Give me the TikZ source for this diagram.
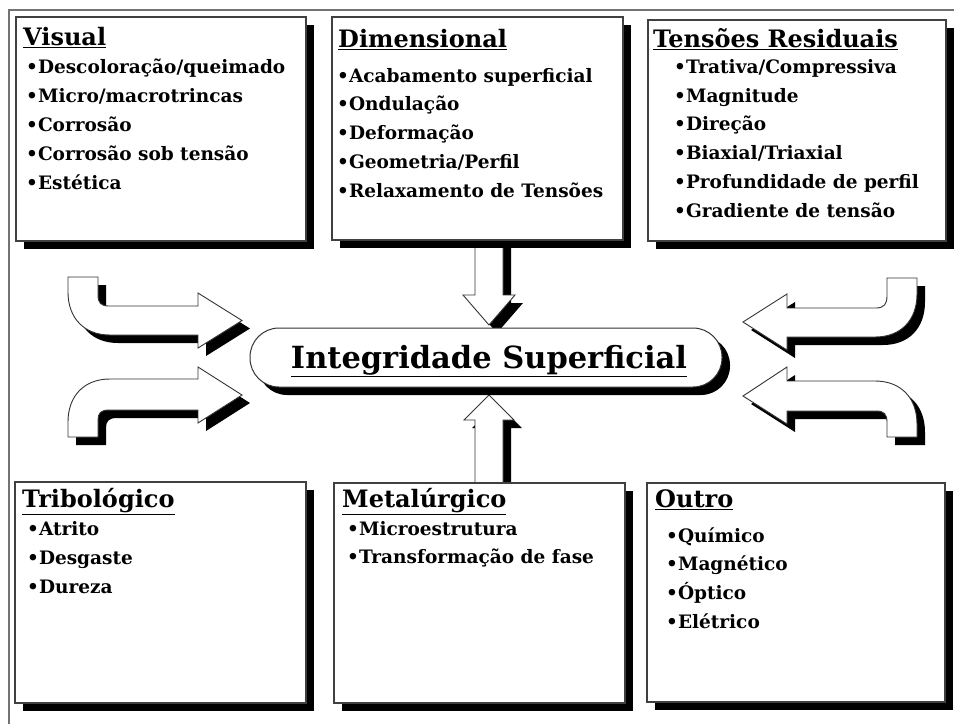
\documentclass[tikz,border=0pt]{standalone}
\usepackage{fontspec}
\setmainfont{DejaVu Serif}
\begin{document}
\begin{tikzpicture}[x=1pt,y=-1pt,
  shad/.style={preaction={fill=black,transform canvas={shift={(8pt,-8pt)}}}},
  panel/.style={shad,fill=white,draw=black!75,line width=1.1pt,anchor=north west,inner sep=0pt,outer sep=0pt},
  arrowface/.style={shad,fill=white,draw=black!80,line width=0.9pt,line join=miter},
  ttl/.style={anchor=base west,inner sep=0pt,font=\fontsize{24}{28}\selectfont\bfseries},
  itm/.style={anchor=base west,inner sep=0pt,font=\fontsize{18.5}{21}\selectfont\bfseries},
  bigtxt/.style={anchor=base,inner sep=0pt,font=\fontsize{30.5}{34}\selectfont\bfseries}]
\useasboundingbox (0,0) rectangle (954,724);
\fill[white] (0,0) rectangle (954,724);
% outer frame
\draw[black!55,line width=1.6pt] (9,724) -- (9,10) -- (954,10);

% block arrows (drawn first, boxes cover their ends)
\path[arrowface] (68,277) -- (98,277) -- (98,295) .. controls (98,303) and (101,306) .. (109,306) -- (198,306) -- (198,293) -- (242,320.5) -- (198,348) -- (198,335) -- (110,335) .. controls (84,335) and (68,318) .. (68,292) -- cycle;
\path[arrowface] (68,437) -- (98,437) -- (98,420) .. controls (98,413) and (101,410) .. (109,410) -- (198,410) -- (198,423) -- (242,395) -- (198,367) -- (198,379) -- (110,379) .. controls (84,379) and (68,396) .. (68,422) -- cycle;
\path[arrowface] (917,278) -- (887,278) -- (887,296) .. controls (887,304) and (884,308) .. (876,308) -- (787,308) -- (787,294) -- (743,322) -- (787,350) -- (787,337) -- (875,337) .. controls (901,337) and (917,320) .. (917,294) -- cycle;
\path[arrowface] (917,437) -- (887,437) -- (887,422) .. controls (887,414) and (884,411) .. (876,411) -- (787,411) -- (787,424) -- (743,396) -- (787,367) -- (787,381) -- (875,381) .. controls (901,381) and (917,398) .. (917,424) -- cycle;
\path[arrowface] (475,236) -- (503,236) -- (503,295) -- (515,295) -- (489,325) -- (463,295) -- (475,295) -- cycle;
\path[arrowface] (489,395) -- (514,420) -- (503,420) -- (503,488) -- (475,488) -- (475,420) -- (464,420) -- cycle;

% panels
\node[panel,minimum width=290pt,minimum height=224pt] (vis) at (16,17) {};
\node[panel,minimum width=291pt,minimum height=223pt] (dim) at (332,17) {};
\node[panel,minimum width=298pt,minimum height=221pt] (ten) at (648,20) {};
\node[panel,minimum width=291pt,minimum height=221pt] (tri) at (15,482) {};
\node[panel,minimum width=291pt,minimum height=220pt] (met) at (334,483) {};
\node[panel,minimum width=298pt,minimum height=219pt] (out) at (647,483) {};

% centre
\node[shad,fill=white,draw=black!80,line width=1pt,rounded corners=29pt,minimum width=472pt,minimum height=59pt,inner sep=0pt] (is) at (486,357.5) {};
\node[bigtxt] (istxt) at (489,368) {\underline{Integridade Superficial}};

% Visual
\node[ttl] (visT) at (23,45) {\underline{Visual}};
\node[itm] (vis1) at (26,73) {•Descoloração/queimado};
\node[itm] (vis2) at (26,102) {•Micro/macrotrincas};
\node[itm] (vis3) at (26,131) {•Corrosão};
\node[itm] (vis4) at (26,160) {•Corrosão sob tensão};
\node[itm] (vis5) at (26,189) {•Estética};

% Dimensional
\node[ttl] (dimT) at (338,47) {\underline{Dimensional}};
\node[itm] (dim1) at (337,82) {•Acabamento superficial};
\node[itm] (dim2) at (337,110) {•Ondulação};
\node[itm] (dim3) at (337,139) {•Deformação};
\node[itm] (dim4) at (337,168) {•Geometria/Perfil};
\node[itm] (dim5) at (337,197) {•Relaxamento de Tensões};

% Tensoes Residuais
\node[ttl] (tenT) at (653,47) {\underline{Tensões Residuais}};
\node[itm] (ten1) at (674,73) {•Trativa/Compressiva};
\node[itm] (ten2) at (674,102) {•Magnitude};
\node[itm] (ten3) at (674,130) {•Direção};
\node[itm] (ten4) at (674,159) {•Biaxial/Triaxial};
\node[itm] (ten5) at (674,188) {•Profundidade de perfil};
\node[itm] (ten6) at (674,217) {•Gradiente de tensão};

% Tribologico
\node[ttl] (triT) at (22,507) {\underline{Tribológico}};
\node[itm] (tri1) at (27,535) {•Atrito};
\node[itm] (tri2) at (27,564) {•Desgaste};
\node[itm] (tri3) at (27,593) {•Dureza};

% Metalurgico
\node[ttl] (metT) at (342,507) {\underline{Metalúrgico}};
\node[itm] (met1) at (347,535) {•Microestrutura};
\node[itm] (met2) at (347,563) {•Transformação de fase};

% Outro
\node[ttl] (outT) at (655,507) {\underline{Outro}};
\node[itm] (out1) at (666,542) {•Químico};
\node[itm] (out2) at (666,570) {•Magnético};
\node[itm] (out3) at (666,599) {•Óptico};
\node[itm] (out4) at (666,628) {•Elétrico};
\end{tikzpicture}
\end{document}
